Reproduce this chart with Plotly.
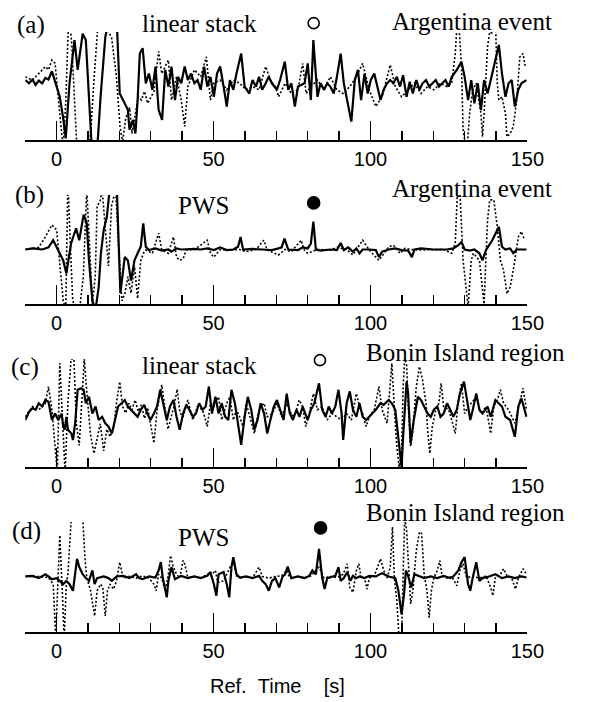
import plotly.graph_objects as go

# ---------------- data (time in s, normalised amplitude) ----------------
a_solid_t = [-10.0,-8.8,-7.7,-6.7,-5.7,-4.6,-3.6,-2.6,-1.5,-0.3,1.0,2.1,2.9,4.1,5.7,6.7,8.3,9.3,10.3,11.1,12.9,14.0,15.5,16.5,18.1,19.3,20.1,21.2,22.7,23.2,24.3,25.1,25.8,26.5,27.4,28.4,29.4,30.5,31.5,32.5,33.6,34.6,35.6,36.6,37.7,38.7,39.7,40.8,41.8,42.8,43.9,44.9,45.9,47.0,48.0,49.0,50.1,51.1,52.1,53.2,54.2,55.2,56.3,57.3,58.8,59.9,61.4,62.4,63.5,64.5,65.5,66.6,67.6,68.6,70.2,71.2,72.7,73.8,74.8,75.9,76.9,79.0,80.0,81.0,81.8,83.1,84.1,85.2,86.2,87.2,88.3,89.3,90.5,91.5,92.6,93.9,95.0,96.0,97.0,98.1,99.1,100.1,101.2,102.2,103.2,104.2,105.3,106.3,107.3,108.4,109.4,110.4,111.5,112.5,113.5,114.6,115.6,116.6,117.7,118.7,119.7,120.8,121.8,122.8,123.9,124.9,125.9,127.5,129.0,130.0,131.1,132.1,133.1,134.2,135.2,136.2,137.3,138.8,139.9,140.9,141.9,143.0,144.0,145.0,146.0,147.1,148.1,149.7]
a_solid_v = [0.11,0.05,0.12,0.02,0.10,0.05,0.15,0.12,0.27,0.05,-0.20,-0.60,-0.97,0.05,0.85,0.30,0.97,0.85,-0.26,-1.05,-1.2,-0.20,0.90,1.2,1.3,1.0,-0.14,-0.26,-0.44,-0.81,-0.63,-0.88,-0.26,0.60,0.70,0.05,0.23,-0.07,0.36,-0.44,-0.63,0.30,-0.01,0.36,-0.26,0.17,0.05,0.36,0.11,0.23,0.05,0.11,-0.07,0.36,-0.01,0.17,-0.20,0.23,0.36,-0.01,-0.38,0.11,-0.07,0.23,0.60,-0.01,-0.14,0.11,-0.01,0.17,-0.07,0.05,0.17,0.05,-0.07,0.11,0.45,-0.07,0.05,-0.38,-0.01,0.05,0.42,-0.26,0.85,-0.20,0.05,-0.07,0.05,-0.01,-0.14,0.17,0.60,0.05,-0.26,-0.66,0.11,0.30,-0.26,0.23,-0.14,0.11,0.23,-0.01,-0.26,-0.07,0.05,0.11,0.05,0.17,-0.01,0.20,-0.20,0.08,-0.14,0.11,-0.07,0.05,0.11,-0.01,0.05,0.11,-0.01,0.05,0.11,-0.01,0.17,0.30,0.45,0.17,-0.26,0.11,-0.32,0.05,-0.44,0.11,-0.14,0.23,0.54,0.76,0.23,-0.20,0.05,0.11,-0.38,-0.07,0.05,0.11]

a_dot_t = [-10.0,-7.7,-5.7,-3.6,-2.6,-1.5,-0.5,0.5,1.6,2.1,2.9,3.6,4.0,4.8,5.6,6.5,9.0,10.8,12.0,13.0,14.5,15.5,16.5,17.5,19.0,20.2,21.0,22.0,23.3,24.0,25.0,26.0,27.0,28.0,29.0,30.0,31.0,32.5,33.5,35.6,36.6,38.2,39.7,40.8,41.8,43.9,45.9,47.7,49.0,50.1,52.1,54.2,56.3,58.3,60.4,62.4,64.5,66.6,68.1,69.7,70.7,72.8,74.8,76.9,78.4,79.5,81.0,83.1,85.2,87.2,89.3,91.3,93.4,95.5,97.5,99.6,101.7,103.7,106.3,107.9,109.9,112.0,114.0,116.1,118.2,120.2,122.3,124.4,125.9,127.0,127.5,128.2,129.0,129.5,130.3,130.9,131.6,132.6,133.7,135.2,135.7,136.2,136.8,137.3,138.0,138.8,139.9,140.4,140.9,141.9,143.0,143.5,144.5,145.5,146.6,147.6,148.6,149.3]
a_dot_v = [0.17,0.11,0.23,0.36,0.30,0.48,0.42,-0.26,-0.88,-1.1,-0.30,0.90,1.3,0.80,-0.26,-1.2,-1.4,-0.90,0.20,1.0,1.4,1.2,1.0,0.90,0.20,-0.75,-1.05,-0.60,-0.40,-0.88,-0.50,-0.20,-0.26,-0.10,-0.32,-0.20,-0.10,0.64,0.23,0.48,-0.26,0.17,-0.26,-0.75,-0.01,0.30,0.17,0.54,-0.26,0.05,0.11,-0.07,0.11,0.05,-0.07,-0.01,-0.07,0.36,0.11,-0.01,-0.20,0.05,-0.14,-0.07,0.42,-0.14,-0.01,0.11,-0.07,0.17,-0.07,-0.14,-0.01,0.17,0.42,-0.07,-0.38,-0.20,0.39,-0.01,-0.20,-0.07,0.05,-0.14,-0.01,-0.07,0.05,-0.01,0.05,0.60,1.05,1.1,0.36,-0.81,-1.1,-1.05,-0.50,-0.07,0.05,-0.51,-0.94,-0.50,0.30,0.73,1.0,0.98,1.05,0.05,-0.26,-0.20,-0.51,-0.94,-0.88,-0.75,-0.26,0.54,0.60,0.36]

b_solid_t = [-10.0,-7.7,-4.6,-2.6,-1.1,0.5,2.1,3.1,3.6,4.6,6.2,7.2,8.6,9.6,10.3,11.4,12.4,13.4,14.1,15.0,16.0,16.8,18.0,19.2,19.6,20.3,21.7,22.7,23.7,24.8,25.8,26.8,27.6,28.4,29.4,31.5,33.5,35.6,36.6,38.2,39.7,43.9,45.9,48.0,50.1,52.1,54.2,56.3,57.8,58.6,59.4,62.4,65.5,68.6,70.7,71.7,72.6,73.8,76.9,78.4,80.0,81.0,81.8,82.6,84.1,87.2,89.3,90.5,91.5,92.9,94.4,95.5,96.5,97.5,99.6,101.7,102.7,103.7,105.8,107.9,109.9,112.0,113.2,114.0,116.1,120.2,124.4,126.4,128.0,129.0,130.0,131.6,133.1,134.7,135.7,136.8,137.8,138.8,139.9,140.9,141.9,143.0,144.5,145.5,146.6,149.7]
b_solid_v = [0.0,0.02,0.0,0.04,0.17,-0.01,-0.20,-0.44,-0.26,0.11,0.39,0.17,0.64,0.48,-0.20,-0.94,-1.1,-0.69,-0.07,0.36,0.60,1.05,1.2,1.1,0.40,-0.80,-0.14,-0.20,-0.57,-0.20,-0.07,0.05,0.48,0.05,-0.01,0.02,-0.02,0.0,-0.04,0.02,0.0,0.01,0.0,0.02,-0.01,0.04,-0.01,0.0,0.05,0.23,0.0,0.01,0.0,-0.01,0.02,0.04,0.20,0.0,-0.01,0.04,0.02,0.11,0.51,0.0,-0.02,0.0,-0.01,0.12,-0.01,0.04,-0.04,0.02,-0.07,0.0,0.0,-0.01,-0.14,-0.04,0.0,0.02,-0.01,-0.02,-0.14,0.0,0.02,0.0,0.0,0.02,0.08,0.14,0.0,-0.02,0.0,-0.07,-0.20,-0.01,0.08,0.17,0.30,0.42,0.05,0.0,0.02,-0.07,0.0,0.0]

b_dot_t = [-10.0,-5.7,-3.6,-1.5,0.0,1.0,2.1,2.9,3.6,4.2,5.1,6.7,8.5,9.6,10.3,11.4,12.3,12.9,13.9,14.5,15.5,16.5,17.5,18.8,19.8,20.8,21.8,22.7,23.7,24.8,25.8,26.8,27.8,28.4,30.5,32.5,33.5,35.6,37.2,38.2,39.2,40.3,41.3,43.9,48.0,49.0,50.1,52.1,54.2,58.3,60.4,63.5,66.0,67.1,70.7,72.8,74.8,77.9,78.9,80.0,83.1,87.2,89.3,92.4,94.4,97.5,99.6,102.7,105.8,107.3,109.4,110.9,114.0,118.2,123.3,125.9,127.0,127.7,128.5,129.5,130.6,131.1,132.1,132.8,134.7,135.7,136.2,136.8,137.3,138.0,139.3,140.4,141.4,142.4,143.5,144.5,145.5,147.1,148.1,149.1]
b_dot_v = [0.0,0.04,0.23,0.45,0.36,-0.26,-0.94,-1.1,1.3,0.30,-0.90,-1.4,-0.50,1.1,0.20,-1.0,-0.50,0.79,0.90,1.1,0.40,-0.30,0.80,1.1,0.0,-0.94,-0.80,-0.50,-0.80,-0.30,-0.90,-0.20,-0.05,-0.01,-0.07,0.30,-0.01,-0.07,0.23,-0.14,-0.20,-0.17,-0.01,0.0,0.17,-0.07,-0.14,0.0,-0.01,0.0,-0.04,0.0,0.17,-0.01,-0.10,0.0,-0.04,0.17,-0.01,-0.07,0.0,-0.01,0.04,0.0,-0.10,0.17,-0.01,-0.20,0.05,0.08,-0.07,0.02,-0.01,0.0,0.0,-0.07,0.11,1.05,1.05,-0.20,-0.81,-1.05,-0.20,-0.07,-0.20,-0.81,-1.0,-0.14,0.54,0.91,0.91,0.42,-0.20,-0.38,-0.81,-0.69,-0.38,0.23,0.33,0.17]

c_solid_t = [-10.0,-8.8,-7.7,-6.7,-5.7,-4.6,-3.6,-2.6,-1.5,-0.5,0.5,1.6,2.1,2.6,3.1,3.6,4.7,5.2,5.9,6.7,7.8,8.6,9.3,10.3,11.4,12.4,13.4,14.5,15.5,16.5,17.6,18.6,19.6,20.7,21.7,22.7,23.7,24.8,25.8,26.8,27.9,28.9,29.9,31.0,32.0,33.0,34.1,35.1,36.1,37.2,38.2,39.2,40.3,41.3,42.3,43.4,44.4,45.4,46.5,47.5,48.5,49.5,50.6,51.6,52.6,53.7,54.7,55.7,56.8,57.8,58.8,59.9,60.9,62.0,63.0,64.0,65.0,66.1,67.1,68.1,69.2,70.2,71.2,72.3,73.3,74.3,75.3,76.4,77.4,78.4,80.0,81.0,82.1,83.6,84.6,85.7,86.7,87.7,88.8,89.8,90.8,91.3,92.4,93.4,94.4,95.5,96.5,97.5,98.6,99.6,100.6,101.7,103.2,104.2,105.8,106.8,107.9,108.9,109.9,110.4,110.9,111.5,112.0,112.8,113.8,115.1,116.1,117.1,118.2,119.2,120.2,121.3,122.3,123.3,124.4,125.4,126.4,127.5,128.5,129.8,131.1,131.8,132.6,133.7,134.7,135.7,137.3,138.3,139.8,140.9,141.9,143.0,144.5,146.0,147.1,148.1,149.7]
c_solid_v = [-0.13,0.02,0.09,0.06,0.18,0.12,0.24,0.21,-0.13,-0.01,-0.13,-0.01,-0.25,-0.31,-0.07,-0.31,-0.38,-0.50,-0.19,0.43,0.46,0.43,0.18,0.30,-0.01,0.12,-0.13,-0.07,-0.19,-0.25,-0.38,-0.13,0.12,0.18,0.24,0.12,0.06,-0.01,-0.07,0.06,0.15,-0.01,-0.13,-0.01,0.12,0.43,0.12,-0.13,0.12,0.24,-0.07,-0.31,-0.01,0.15,0.06,-0.07,-0.01,0.18,0.06,0.12,0.49,-0.01,0.30,-0.01,0.18,-0.07,-0.13,0.43,0.18,-0.19,-0.59,-0.07,0.30,0.06,-0.31,-0.13,0.18,-0.01,-0.38,-0.13,0.12,0.24,0.06,-0.13,0.36,-0.01,-0.13,0.06,-0.07,0.12,-0.13,0.06,0.18,0.55,0.06,-0.07,0.12,-0.01,0.12,0.43,-0.01,-0.50,0.18,0.40,0.06,-0.07,0.18,-0.07,-0.13,-0.07,-0.01,0.06,0.18,0.15,0.24,0.18,0.06,-0.44,-1.0,-0.44,0.12,0.58,0.36,-0.56,-0.13,0.30,0.24,0.12,-0.01,-0.07,0.06,0.12,-0.07,-0.01,0.18,0.06,-0.07,0.06,0.36,0.58,0.06,-0.13,0.06,0.36,0.06,-0.01,0.12,-0.07,0.24,0.18,0.12,-0.07,-0.13,-0.44,0.12,0.27,-0.07]

c_dot_t = [-10.0,-7.7,-5.7,-3.6,-2.6,-1.5,-0.5,0.2,1.0,1.9,2.7,3.6,4.6,5.5,6.3,7.2,8.8,9.6,10.8,11.9,12.9,13.9,15.0,16.0,17.0,18.2,19.2,20.1,21.0,22.0,23.0,24.0,25.0,26.0,27.0,28.0,29.0,30.0,31.0,32.0,33.5,34.5,35.5,36.5,37.5,38.4,39.3,40.3,41.8,43.4,44.9,46.5,48.0,49.0,50.1,51.6,52.6,54.2,55.2,56.3,57.3,58.3,59.4,60.4,62.0,63.0,64.0,65.0,66.1,67.1,68.7,70.2,71.7,73.3,75.0,76.0,77.3,78.4,79.4,80.5,81.8,83.1,84.6,86.2,87.7,89.3,90.8,92.4,93.9,95.5,96.5,97.5,98.6,99.6,101.2,102.7,103.7,105.3,106.3,106.8,107.7,108.4,109.1,109.9,110.4,110.9,111.5,112.0,112.8,113.5,114.6,115.6,116.6,117.7,118.2,118.9,119.7,120.8,121.8,122.5,123.3,124.9,125.9,127.0,128.0,129.0,130.0,131.1,132.1,133.7,135.2,136.8,138.3,139.3,140.4,141.4,142.4,144.0,146.0,147.6,148.6,149.7]
c_dot_v = [-0.07,0.12,0.06,0.18,0.49,0.06,-0.62,-1.1,0.92,-0.30,-1.1,0.20,1.0,1.0,-0.20,-0.60,1.0,0.40,-0.40,-0.75,-0.44,-0.20,-0.70,-0.30,-0.44,-0.25,0.24,0.58,0.12,0.0,0.18,0.06,0.24,0.03,0.15,-0.10,0.10,-0.20,-0.56,0.06,0.52,0.10,-0.30,-0.07,0.15,0.44,0.0,-0.07,0.24,-0.13,0.12,0.06,-0.25,0.18,0.12,0.30,-0.13,0.18,0.30,-0.13,0.06,-0.07,-0.25,0.18,-0.19,-0.38,-0.07,0.12,0.18,-0.07,-0.01,0.18,-0.07,0.18,-0.05,-0.02,0.24,0.12,-0.25,-0.01,0.36,0.06,0.12,-0.13,-0.01,-0.07,-0.13,-0.01,-0.13,0.36,0.12,-0.01,-0.25,-0.07,0.06,0.49,0.06,-0.19,0.49,0.92,-0.01,-0.62,-1.0,-0.75,0.49,1.0,0.92,0.18,-0.62,-0.31,0.49,0.86,0.61,0.18,-0.31,-0.75,-0.25,0.06,0.18,0.55,0.12,0.06,-0.13,-0.38,0.24,0.55,-0.01,0.12,0.18,0.30,-0.01,0.12,-0.38,0.12,0.24,0.43,0.18,0.06,-0.19,0.18,0.46,0.06]

d_solid_t = [-10.0,-7.7,-5.7,-3.6,-2.6,-1.5,0.0,1.0,2.1,3.1,4.1,5.2,5.9,6.5,7.2,8.3,9.3,10.3,11.4,12.1,12.9,15.0,16.5,17.6,19.1,21.2,23.2,25.3,26.3,27.4,29.4,31.5,32.5,33.2,33.8,34.6,35.1,35.6,36.6,37.7,39.7,41.8,43.9,45.9,48.0,49.0,50.1,50.9,51.6,53.2,54.2,55.0,55.7,56.3,57.3,58.3,60.4,62.4,64.5,65.5,66.6,67.6,68.6,69.7,70.9,72.0,72.8,73.6,74.8,76.9,79.0,80.5,81.5,82.6,83.6,84.6,85.4,86.2,87.7,88.8,89.8,90.5,91.5,92.6,93.6,94.4,95.5,96.5,98.1,99.6,101.7,103.7,105.8,107.9,108.9,109.9,110.7,111.3,112.0,113.0,114.0,115.6,117.1,119.2,121.3,123.3,125.4,126.4,128.0,129.0,130.0,131.1,131.8,132.6,133.7,134.7,135.7,137.8,139.8,141.9,144.0,146.0,148.1,149.7]
d_solid_v = [0.01,0.02,-0.02,0.05,0.01,-0.04,-0.02,-0.08,-0.13,-0.07,-0.13,-0.25,0.05,0.33,0.18,0.05,-0.02,-0.07,0.12,-0.13,-0.02,0.01,-0.02,-0.07,0.01,0.02,-0.02,0.05,-0.02,-0.04,0.01,-0.01,0.12,0.27,-0.01,-0.25,-0.37,-0.07,0.18,-0.04,0.02,-0.02,0.01,-0.02,0.02,0.09,-0.13,-0.34,0.05,0.09,-0.13,-0.37,0.18,0.36,0.05,-0.01,0.01,-0.02,0.02,-0.07,-0.13,-0.25,-0.07,-0.02,-0.19,0.01,0.05,0.19,-0.02,0.01,-0.02,0.02,0.12,0.05,0.51,-0.01,-0.22,-0.02,0.01,0.02,0.18,-0.07,-0.02,0.09,-0.07,0.02,-0.02,0.01,-0.02,0.02,0.01,0.07,0.01,-0.02,-0.25,-0.68,-0.31,0.12,0.02,-0.19,0.05,0.01,-0.02,0.01,-0.02,0.02,-0.02,0.01,0.12,0.27,0.36,-0.13,-0.25,-0.01,0.27,-0.07,-0.02,0.01,0.05,-0.02,0.01,-0.02,0.01,-0.01]

d_dot_t = [-10.0,-5.7,-2.6,-1.1,-0.3,0.3,1.0,1.8,2.4,3.1,3.6,4.7,5.7,6.7,8.3,9.0,9.6,10.8,12.1,12.9,14.0,14.7,15.5,16.2,17.0,18.1,19.1,20.1,21.2,23.2,25.3,27.4,29.4,31.0,31.7,32.5,33.5,34.6,35.6,36.3,37.2,38.2,39.2,40.3,40.8,41.8,43.9,45.9,48.0,49.0,50.6,51.3,53.2,54.2,55.2,56.3,57.3,58.8,60.4,62.4,64.5,65.5,67.6,69.7,71.7,73.3,74.3,76.9,79.0,81.0,83.6,85.2,87.2,89.3,91.3,92.6,93.4,94.4,95.5,96.3,97.0,98.1,98.9,99.6,101.2,102.2,103.2,104.2,105.3,106.3,107.0,107.6,108.4,109.1,109.9,110.4,110.9,111.5,112.0,112.8,113.5,114.6,115.6,116.3,117.1,118.0,118.7,119.4,120.2,121.3,122.1,122.8,124.4,125.9,127.5,128.5,129.5,130.6,132.6,134.7,136.8,138.3,139.0,139.8,141.4,142.4,143.5,145.0,146.2,147.1,148.6,149.7]
d_dot_v = [0.01,0.01,-0.01,-0.13,-1.1,-0.25,0.76,-0.25,-1.1,-0.13,0.05,1.1,1.1,1.1,1.1,0.36,-0.01,-0.25,-0.71,-0.25,-0.13,-0.19,-0.71,-0.25,-0.13,-0.22,-0.07,0.27,-0.02,0.01,-0.02,0.02,-0.02,-0.13,-0.25,0.05,-0.02,-0.25,0.05,0.39,0.18,0.05,-0.02,0.30,0.24,-0.01,0.01,-0.02,0.05,0.01,0.12,-0.10,-0.07,0.05,0.18,0.30,0.02,-0.02,0.01,-0.02,0.18,0.01,-0.02,0.01,0.02,0.12,-0.02,0.01,-0.02,0.02,0.18,-0.02,0.01,-0.01,0.05,0.24,-0.19,-0.28,0.12,0.24,-0.01,-0.02,-0.22,-0.02,0.02,0.18,0.33,0.12,-0.02,0.18,0.91,-0.01,-0.43,-1.1,-1.1,0.05,1.1,0.85,0.24,-0.49,-0.25,0.48,0.82,0.79,0.05,-0.25,-0.74,-0.25,-0.01,0.12,0.30,0.02,-0.02,0.01,-0.16,0.12,0.24,-0.01,0.01,-0.02,0.02,-0.19,-0.34,-0.01,0.05,0.15,0.02,-0.02,-0.22,-0.02,0.15,0.05]

# phase markers (open = linear stack, filled = PWS); height given as figure fraction
marker_t = [81.9, 81.9, 83.9, 84.1]
marker_h = [0.967, 0.711, 0.487, 0.248]
marker_filled = [False, True, False, True]

panel_tags = ["(a)", "(b)", "(c)", "(d)"]
method_labels = ["linear stack", "PWS", "linear stack", "PWS"]
event_labels = ["Argentina event", "Argentina event", "Bonin Island region", "Bonin Island region"]
tick_vals = [0, 50, 100, 150]
tick_text = ["0", "50", "100", "150"]
minor_vals = [10, 20, 30, 40, 60, 70, 80, 90, 110, 120, 130, 140]
x_title = "Ref.\u00a0\u00a0Time\u00a0\u00a0\u00a0\u00a0[s]"

# ---------------- layout geometry ----------------
W, H = 592, 702
x_dom = [26 / W, 543 / W]
panel_px = [(32, 140), (195, 304), (359, 467), (522, 632)]  # (top, bottom) px
tag_pos = [(32, 25), (30, 195), (26, 367), (27, 531)]
method_pos = [(205, 24), (210, 205), (205, 365), (210, 537)]
event_pos = [(486, 21), (486, 188), (479, 352), (479, 512)]

series = [
    (a_dot_t, a_dot_v, a_solid_t, a_solid_v),
    (b_dot_t, b_dot_v, b_solid_t, b_solid_v),
    (c_dot_t, c_dot_v, c_solid_t, c_solid_v),
    (d_dot_t, d_dot_v, d_solid_t, d_solid_v),
]

serif = "Liberation Serif, Times New Roman, serif"
sans = "Liberation Sans Narrow, Arial Narrow, Liberation Sans, Arial, sans-serif"

fig = go.Figure()
layout = dict(
    width=W, height=H, margin=dict(l=0, r=0, t=0, b=0),
    paper_bgcolor="white", plot_bgcolor="rgba(0,0,0,0)", showlegend=False,
    hovermode=False, annotations=[],
)

for i, (dt, dv, st, sv) in enumerate(series):
    n = "" if i == 0 else str(i + 1)
    top, bot = panel_px[i]
    layout["xaxis" + n] = dict(
        domain=x_dom, range=[-10, 150], anchor="y" + n,
        showline=True, linecolor="black", linewidth=2,
        ticks="inside", ticklen=19, tickwidth=1.6, tickcolor="black",
        tickvals=tick_vals, ticktext=tick_text,
        minor=dict(ticks="inside", ticklen=9, tickwidth=1.4, tickcolor="black",
                   tickmode="array", tickvals=minor_vals, showgrid=False),
        tickfont=dict(family=sans, size=20, color="black"),
        showgrid=False, zeroline=False, fixedrange=True,
    )
    layout["yaxis" + n] = dict(
        domain=[1 - bot / H, 1 - top / H], range=[-1, 1], anchor="x" + n,
        visible=False, fixedrange=True,
    )
    fig.add_trace(go.Scatter(x=dt, y=dv, mode="lines", xaxis="x" + n, yaxis="y" + n,
                             line=dict(color="black", width=1.6, dash="2px,2px")))
    fig.add_trace(go.Scatter(x=st, y=sv, mode="lines", xaxis="x" + n, yaxis="y" + n,
                             line=dict(color="black", width=2.2)))

    for txt, (px, py), size in [
        (panel_tags[i], tag_pos[i], 25),
        (method_labels[i], method_pos[i], 25),
        (event_labels[i], event_pos[i], 25),
    ]:
        layout["annotations"].append(dict(
            text=txt, x=px / W, y=1 - py / H, xref="paper", yref="paper",
            xanchor="center", yanchor="middle", showarrow=False,
            font=dict(family=serif, size=size, color="black")))

# full-height invisible axis carrying the phase markers above the traces
layout["yaxis5"] = dict(domain=[0, 1], range=[0, 1], anchor="x", visible=False, fixedrange=True)
fig.add_trace(go.Scatter(
    x=marker_t, y=marker_h, mode="markers", xaxis="x", yaxis="y5", cliponaxis=False,
    marker=dict(symbol=["circle" if f else "circle-open" for f in marker_filled],
                size=[12 if f else 11 for f in marker_filled], color="#000000",
                opacity=1, line=dict(color="#000000", width=1.6))))

layout["annotations"].append(dict(
    text=x_title, x=286 / W, y=1 - 686 / H, xref="paper", yref="paper",
    xanchor="center", yanchor="middle", showarrow=False,
    font=dict(family=sans, size=20, color="black")))

fig.update_layout(**layout)
fig.write_html("out.html", config={"displayModeBar": False, "staticPlot": True},
               post_script="document.body.style.margin='0';document.body.style.overflow='hidden';")
